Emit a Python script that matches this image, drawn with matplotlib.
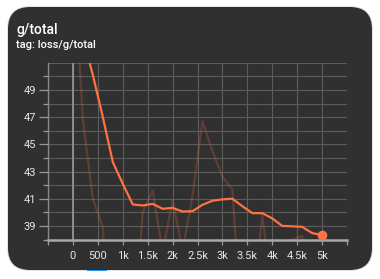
import matplotlib
matplotlib.use("Agg")
import matplotlib.pyplot as plt
from matplotlib.patches import FancyBboxPatch, Rectangle
from matplotlib.ticker import FixedLocator, NullFormatter

# ---- data ----
steps = [0, 200, 400, 600, 800, 1000, 1200, 1400, 1600, 1800, 2000, 2200, 2400,
         2600, 2800, 3000, 3200, 3400, 3600, 3800, 4000, 4200, 4400, 4600, 4800, 5000]
raw_values = [59.5, 46.8, 41.0, 38.9, 25.0, 28.0, 30.0, 40.0, 41.6, 37.1, 40.9, 37.2, 41.2,
              46.7, 44.5, 42.6, 41.7, 30.5, 33.0, 39.8, 33.8, 36.0, 37.98, 38.25, 30.0, 34.0]
smoothed_values = [59.5, 52.8, 50.1, 47.0, 43.7, 42.1, 40.58, 40.5, 40.62, 40.26, 40.32, 40.06, 40.08,
                   40.55, 40.85, 40.95, 41.0, 40.45, 39.94, 39.94, 39.55, 39.0, 38.97, 38.93, 38.47, 38.33]
x_tick_values = [-500, 0, 500, 1000, 1500, 2000, 2500, 3000, 3500, 4000, 4500, 5000, 5500]
x_tick_labels = ["", "0", "500", "1k", "1.5k", "2k", "2.5k", "3k", "3.5k", "4k", "4.5k", "5k", ""]
y_major_ticks = [39, 41, 43, 45, 47, 49]
y_minor_ticks = [38, 40, 42, 44, 46, 48, 50]
y_grid_values = [38, 39, 40, 41, 42, 43, 44, 45, 46, 47, 48, 49, 50, 51]
title = "g/total"
subtitle = "tag: loss/g/total"

W, H = 380, 279
CARD = "#303030"
ORANGE = "#ff7043"
FONT = ["Roboto", "DejaVu Sans"]

fig = plt.figure(figsize=(W / 100, H / 100), dpi=100, facecolor="white")

bg = fig.add_axes([0, 0, 1, 1])
bg.set_xlim(0, W)
bg.set_ylim(H, 0)
bg.axis("off")
bg.add_patch(FancyBboxPatch((7, 6), 366, 265, boxstyle="round,pad=0,rounding_size=23",
                            fc="#e4e4e4", ec="none"))
bg.add_patch(FancyBboxPatch((8, 7), 364, 263, boxstyle="round,pad=0,rounding_size=22",
                            fc=CARD, ec="none"))
bg.add_patch(Rectangle((86.7, 269.6), 20.6, 1.8, fc="#2196f3", ec="none"))
bg.text(16.5, 34.0, title, color="white", fontsize=10, family=FONT, weight="medium",
        va="baseline", ha="left")
bg.text(16.5, 48.3, subtitle, color="white", fontsize=8, family=FONT, weight="medium",
        va="baseline", ha="left")

left, right, top, bottom = 48, 347, 62.7, 239.5
ax = fig.add_axes([left / W, 1 - bottom / H, (right - left) / W, (bottom - top) / H])
ax.set_facecolor(CARD)
ax.set_xlim(-500, 5500)
ax.set_ylim(38, 51)

for gx in x_tick_values:
    ax.axvline(gx, color="#5c5c5c", lw=0.8, zorder=1)
for gy in y_grid_values:
    ax.axhline(gy, color="#5c5c5c", lw=0.8, zorder=1)
ax.axvline(0, color="#9a9a9a", lw=1.2, zorder=1.5)

ax.plot(steps, raw_values, color=ORANGE, alpha=0.22, lw=1.6, zorder=2)
ax.plot(steps, smoothed_values, color=ORANGE, lw=1.6, zorder=3, solid_joinstyle="round")
ax.plot(steps[-1:], smoothed_values[-1:], "o", color=ORANGE, ms=6, zorder=4, clip_on=False)

for s in ["top", "right"]:
    ax.spines[s].set_visible(False)
ax.spines["left"].set_color("#8a8a8a")
ax.spines["left"].set_linewidth(1.0)
ax.spines["bottom"].set_color("#a8a8a8")
ax.spines["bottom"].set_linewidth(1.8)

ax.xaxis.set_major_locator(FixedLocator(x_tick_values))
ax.set_xticklabels(x_tick_labels)
ax.yaxis.set_major_locator(FixedLocator(y_major_ticks))
ax.set_yticklabels([str(v) for v in y_major_ticks])
ax.yaxis.set_minor_locator(FixedLocator(y_minor_ticks))
ax.yaxis.set_minor_formatter(NullFormatter())

ax.tick_params(axis="x", colors="#9a9a9a", length=3.5, width=0.9, pad=4.5,
               labelcolor="#e6e6e6", labelsize=8)
ax.tick_params(axis="y", which="major", colors="#9a9a9a", length=6.5, width=0.9, pad=2,
               labelcolor="#e6e6e6", labelsize=8)
ax.tick_params(axis="y", which="minor", colors="#9a9a9a", length=3.5, width=0.9)
for lab in ax.get_xticklabels() + ax.get_yticklabels():
    lab.set_family(FONT)

fig.savefig("out.png", dpi=100, facecolor="white")
